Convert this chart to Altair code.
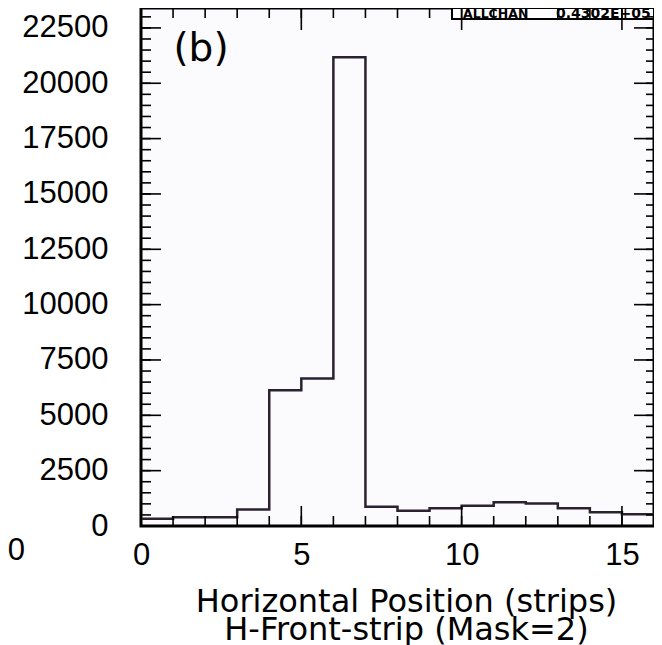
import altair as alt
import pandas as pd

# ---- data ----
bin_lefts = list(range(0, 16))
counts = [330, 390, 390, 750, 6130, 6660, 21170, 870, 690, 800, 920, 1070, 1020, 800, 620, 530]
x_upper_edge = 16
x_label_values = [0, 5, 10, 15]
y_label_values = [0, 2500, 5000, 7500, 10000, 12500, 15000, 17500, 20000, 22500]
x_minor_ticks = list(range(0, 17))
y_minor_ticks = list(range(0, 23500, 500))
x_title_lines = ["Horizontal Position (strips)", "H-Front-strip (Mask=2)"]
panel_label = ["(b)"]
stat_name = ["ALLCHAN"]
stat_value = ["0.4302E+05"]
neighbour_label = ["50"]

W, H = 513, 518
xs = alt.Scale(domain=[0, x_upper_edge], nice=False, zero=False)
ys = alt.Scale(domain=[0, 23400], nice=False, zero=False)

x_axis = alt.Axis(values=x_label_values, title=x_title_lines, labelPadding=14, ticks=False,
                  domain=False, grid=False, labelFlush=False, titlePadding=16,
                  titleLineHeight=28, titleX=265, titleAlign="center", format="d")
y_axis = alt.Axis(values=y_label_values, title=None, labelPadding=33, ticks=False,
                  domain=False, grid=False, format="d")

hist = pd.DataFrame({"x": bin_lefts + [x_upper_edge], "y": counts + [counts[-1]]})
one = pd.DataFrame({"t": [0]})

box = alt.Chart(one).mark_rect(fill="white", stroke="black", strokeWidth=2).encode(
    x=alt.value(311), x2=alt.value(W), y=alt.value(0), y2=alt.value(11)
)

line = alt.Chart(hist).mark_line(interpolate="step-after", color="#2a2230", strokeWidth=2.5).encode(
    x=alt.X("x:Q", scale=xs, axis=x_axis),
    y=alt.Y("y:Q", scale=ys, axis=y_axis),
)

ydf_minor = pd.DataFrame({"y": y_minor_ticks})
ydf_major = pd.DataFrame({"y": y_label_values})
xdf_minor = pd.DataFrame({"x": x_minor_ticks})
xdf_major = pd.DataFrame({"x": x_label_values})

def yticks(df, length, right=False):
    if right:
        enc = dict(x=alt.value(W), x2=alt.value(W - length))
    else:
        enc = dict(x=alt.value(0), x2=alt.value(length))
    return alt.Chart(df).mark_rule(color="black", strokeWidth=1.6).encode(
        y=alt.Y("y:Q", scale=ys, axis=y_axis), **enc)

def xticks(df, length, top=False):
    if top:
        enc = dict(y=alt.value(0), y2=alt.value(length))
    else:
        enc = dict(y=alt.value(H), y2=alt.value(H - length))
    return alt.Chart(df).mark_rule(color="black", strokeWidth=1.6).encode(
        x=alt.X("x:Q", scale=xs, axis=x_axis), **enc)

ticks = [
    yticks(ydf_minor, 10), yticks(ydf_major, 20),
    yticks(ydf_minor, 8, right=True), yticks(ydf_major, 20, right=True),
    xticks(xdf_minor, 10), xticks(xdf_major, 20),
    xticks(xdf_minor, 10, top=True), xticks(xdf_major, 22, top=True),
]

lbl_b = alt.Chart(pd.DataFrame({"t": panel_label})).mark_text(
    font="DejaVu Sans", fontSize=39, align="center", baseline="middle", color="black"
).encode(text="t:N", x=alt.value(60), y=alt.value(41))

lbl_name = alt.Chart(pd.DataFrame({"t": stat_name})).mark_text(
    font="DejaVu Sans", fontSize=12.5, fontWeight="bold", align="left", baseline="middle", color="black"
).encode(text="t:N", x=alt.value(322), y=alt.value(6))

lbl_val = alt.Chart(pd.DataFrame({"t": stat_value})).mark_text(
    font="DejaVu Sans", fontSize=14, fontWeight="bold", align="left", baseline="middle", color="black"
).encode(text="t:N", x=alt.value(415), y=alt.value(6))

lbl_nb = alt.Chart(pd.DataFrame({"t": neighbour_label})).mark_text(
    font="Liberation Sans", fontSize=31, align="right", baseline="middle", color="black"
).encode(text="t:N", x=alt.value(-116), y=alt.value(543))

chart = alt.layer(box, line, *ticks, lbl_b, lbl_name, lbl_val, lbl_nb).properties(
    width=W, height=H,
    autosize=alt.AutoSizeParams(type="none"),
    padding={"left": 133, "top": 0, "right": 0, "bottom": 119},
    background="white",
).configure_view(
    stroke="black", strokeWidth=3, fill="#fbfafc"
).configure_axis(
    labelFont="Liberation Sans", labelFontSize=31, labelColor="black",
    titleFont="DejaVu Sans", titleFontSize=32, titleColor="black", titleFontWeight="normal",
)

chart.save("out.html", embed_options={"renderer": "svg", "actions": False})
